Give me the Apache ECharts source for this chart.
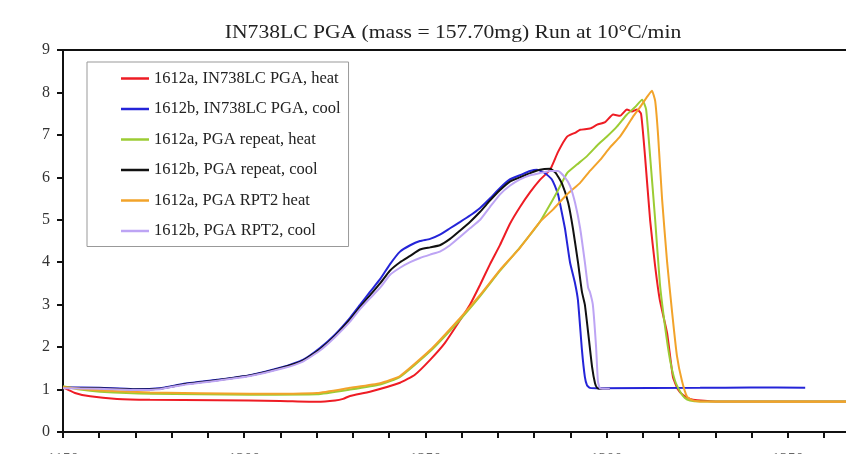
<!DOCTYPE html>
<html><head><meta charset="utf-8">
<script src="https://cdn.jsdelivr.net/npm/echarts@6/dist/echarts.min.js"></script>
<style>html,body{margin:0;padding:0;background:#fff}#c{width:846px;height:454px}</style>
</head><body><div id="c"></div>
<script>
var titleText = 'IN738LC PGA (mass = 157.70mg) Run at 10°C/min';
var xTicks = [1150, 1200, 1250, 1300, 1350, 1400];
var yTicks = [0, 1, 2, 3, 4, 5, 6, 7, 8, 9];
var seriesNames = ['1612a, IN738LC PGA, heat', '1612b, IN738LC PGA, cool', '1612a, PGA repeat, heat', '1612b, PGA repeat, cool', '1612a, PGA RPT2 heat', '1612b, PGA RPT2, cool'];

var redHeat = [[1150,1.05],[1153.3,0.92],[1157.5,0.84],[1164.9,0.78],[1174.0,0.76],[1192.5,0.75],[1209.9,0.73],[1220.1,0.71],[1225.1,0.74],[1227.3,0.78],[1229.2,0.85],[1234.7,0.95],[1243.0,1.16],[1247.1,1.35],[1251.3,1.7],[1255.4,2.1],[1259.6,2.64],[1262.3,3.0],[1265.1,3.47],[1267.8,3.95],[1270.6,4.41],[1273.3,4.9],[1276.1,5.3],[1278.9,5.65],[1281.6,5.94],[1284.4,6.18],[1286.6,6.6],[1289.1,6.96],[1291.3,7.05],[1292.7,7.12],[1295.4,7.15],[1297.4,7.24],[1299.6,7.3],[1301.8,7.48],[1303.7,7.45],[1305.6,7.6],[1307.0,7.55],[1308.4,7.6],[1309.5,7.5],[1310.6,6.5],[1312.0,5.0],[1313.4,3.9],[1314.7,3.1],[1316.7,2.33],[1318.3,1.3],[1319.7,1.0],[1321.1,0.87],[1323.0,0.78],[1325.0,0.75],[1331.3,0.72],[1370,0.72]];

var blueCool = [[1150,1.05],[1160.2,1.04],[1169.3,1.01],[1176.8,1.03],[1183.1,1.13],[1192.5,1.23],[1201.6,1.34],[1210.7,1.53],[1216.2,1.7],[1220.9,1.98],[1225.1,2.3],[1229.2,2.69],[1232.0,3.0],[1234.7,3.3],[1237.5,3.6],[1240.2,3.95],[1243.0,4.25],[1245.8,4.4],[1248.5,4.5],[1251.3,4.55],[1254.0,4.65],[1256.8,4.8],[1259.6,4.95],[1262.3,5.1],[1265.1,5.28],[1267.8,5.5],[1270.6,5.75],[1273.3,5.95],[1276.1,6.05],[1278.9,6.15],[1280.8,6.18],[1283.0,6.1],[1284.9,5.95],[1286.6,5.6],[1287.1,5.4],[1288.5,4.8],[1289.9,4.0],[1291.3,3.5],[1292.1,3.1],[1293.2,1.93],[1294.0,1.3],[1294.6,1.1],[1295.4,1.04],[1298.2,1.03],[1325.8,1.04],[1339.6,1.05],[1354.8,1.04]];

var greenHeat = [[1150,1.08],[1154.7,1.0],[1160.2,0.95],[1174.0,0.9],[1201.6,0.88],[1220.1,0.89],[1229.2,1.0],[1237.5,1.12],[1243.0,1.3],[1251.3,1.9],[1259.6,2.65],[1265.1,3.2],[1270.6,3.8],[1276.1,4.35],[1281.6,4.95],[1283.6,5.24],[1286.3,5.65],[1289.1,6.1],[1291.8,6.3],[1294.6,6.5],[1297.4,6.75],[1300.1,6.96],[1302.9,7.2],[1305.6,7.48],[1307.8,7.65],[1309.8,7.83],[1310.9,7.6],[1312.0,6.5],[1313.4,5.0],[1314.7,3.5],[1316.1,2.5],[1317.5,1.7],[1318.9,1.2],[1320.3,0.95],[1321.6,0.8],[1323.0,0.74],[1325.8,0.72],[1370,0.72]];

var blackCool = [[1150,1.04],[1160.2,1.03],[1169.3,1.0],[1176.8,1.02],[1183.1,1.12],[1192.5,1.22],[1201.6,1.33],[1210.7,1.52],[1216.2,1.68],[1220.9,1.95],[1225.1,2.27],[1229.2,2.65],[1232.0,2.95],[1234.7,3.22],[1237.5,3.5],[1240.2,3.8],[1243.0,4.0],[1245.8,4.15],[1248.5,4.3],[1251.3,4.35],[1254.0,4.4],[1256.8,4.55],[1259.6,4.75],[1262.3,4.95],[1265.1,5.19],[1267.8,5.45],[1270.6,5.7],[1273.3,5.9],[1276.1,6.0],[1278.9,6.1],[1281.6,6.18],[1284.4,6.2],[1286.0,6.1],[1287.7,5.85],[1289.4,5.4],[1290.7,4.8],[1292.1,4.0],[1293.2,3.3],[1294.0,3.0],[1295.1,2.2],[1296.0,1.53],[1296.8,1.15],[1297.4,1.04],[1298.2,1.02],[1300.9,1.02]];

var orangeHeat = [[1150,1.06],[1154.7,1.02],[1160.2,0.98],[1174.0,0.93],[1201.6,0.9],[1220.1,0.92],[1229.2,1.04],[1237.5,1.15],[1243.0,1.32],[1251.3,1.93],[1259.6,2.69],[1265.1,3.23],[1270.6,3.82],[1276.1,4.34],[1281.6,4.95],[1285.2,5.24],[1289.1,5.6],[1292.7,5.87],[1295.4,6.15],[1298.2,6.41],[1300.9,6.7],[1303.7,6.96],[1305.6,7.2],[1307.3,7.43],[1309.2,7.65],[1311.2,7.9],[1312.5,8.04],[1313.4,7.8],[1314.2,7.0],[1315.3,5.5],[1316.7,4.0],[1318.1,2.8],[1319.4,1.8],[1320.8,1.2],[1322.2,0.83],[1323.6,0.75],[1325.8,0.72],[1370,0.71]];

var lavenderCool = [[1150,1.03],[1160.2,1.02],[1169.3,0.99],[1176.8,1.01],[1183.1,1.11],[1192.5,1.21],[1201.6,1.32],[1210.7,1.5],[1216.2,1.66],[1220.9,1.92],[1225.1,2.24],[1229.2,2.6],[1232.0,2.9],[1234.7,3.15],[1237.5,3.4],[1240.2,3.7],[1243.0,3.87],[1245.8,4.0],[1248.5,4.1],[1251.3,4.18],[1254.0,4.25],[1256.8,4.4],[1259.6,4.6],[1262.3,4.8],[1265.1,5.0],[1267.8,5.3],[1270.6,5.6],[1273.3,5.8],[1276.1,5.95],[1278.9,6.05],[1281.6,6.1],[1284.4,6.15],[1286.6,6.15],[1288.5,6.0],[1289.9,5.8],[1291.3,5.4],[1292.7,4.8],[1294.0,4.0],[1294.9,3.4],[1295.4,3.3],[1296.2,3.0],[1297.1,2.0],[1297.6,1.2],[1298.2,1.03],[1300.9,1.02]];

var colors = ['#ee1c24', '#2424d8', '#9ccc34', '#111111', '#f2a32a', '#bda4f4'];
var allData = [redHeat, blueCool, greenHeat, blackCool, orangeHeat, lavenderCool];

var serif = '"Liberation Serif", "Times New Roman", serif';
var chart = echarts.init(document.getElementById('c'), null, {renderer: 'canvas'});
var series = seriesNames.map(function (n, i) {
  return {
    name: n, type: 'line', data: allData[i], symbol: 'none', smooth: 0.15,
    lineStyle: {color: colors[i], width: 2}, itemStyle: {color: colors[i]},
    z: 2 + i
  };
});
chart.setOption({
  backgroundColor: '#fff',
  animation: false,
  graphic: [{
    type: 'text', x: 453, y: 33, scaleX: 1.2,
    style: {text: titleText, fontFamily: serif, fontSize: 18, fill: '#222',
      textAlign: 'center', textVerticalAlign: 'middle'}
  }],
  legend: {
    orient: 'vertical', left: 87, top: 62, padding: [8, 8, 7, 34],
    icon: 'rect', itemWidth: 28, itemHeight: 2.5, itemGap: 13.5,
    borderColor: '#999', borderWidth: 1, backgroundColor: '#fff',
    textStyle: {fontFamily: serif, fontSize: 16.5, color: '#222', lineHeight: 14},
    data: seriesNames
  },
  grid: {left: 63, top: 50, width: 906, height: 382, containLabel: false, outerBoundsMode: 'none'},
  xAxis: [{
    type: 'value', min: xTicks[0], max: xTicks[xTicks.length - 1], interval: 50,
    axisLine: {lineStyle: {color: '#111', width: 2}},
    axisTick: {show: true, inside: false, length: 6, lineStyle: {color: '#111', width: 2}},
    minorTick: {show: true, splitNumber: 5, length: 6, lineStyle: {color: '#111', width: 2}},
    axisLabel: {margin: 20, fontFamily: serif, fontSize: 16, color: '#666',
      formatter: function (v) { return String(v); }},
    splitLine: {show: false}
  }, {
    type: 'value', position: 'top', min: xTicks[0], max: xTicks[xTicks.length - 1],
    axisLine: {show: true, lineStyle: {color: '#111', width: 2}},
    axisTick: {show: false}, axisLabel: {show: false}, splitLine: {show: false}
  }],
  yAxis: {
    type: 'value', min: yTicks[0], max: yTicks[yTicks.length - 1], interval: 1,
    axisLine: {show: true, lineStyle: {color: '#111', width: 2}},
    axisTick: {show: true, inside: false, length: 6, lineStyle: {color: '#111', width: 2}},
    axisLabel: {margin: 13, fontFamily: serif, fontSize: 16, color: '#333'},
    splitLine: {show: false}
  },
  series: series
});
</script></body></html>
